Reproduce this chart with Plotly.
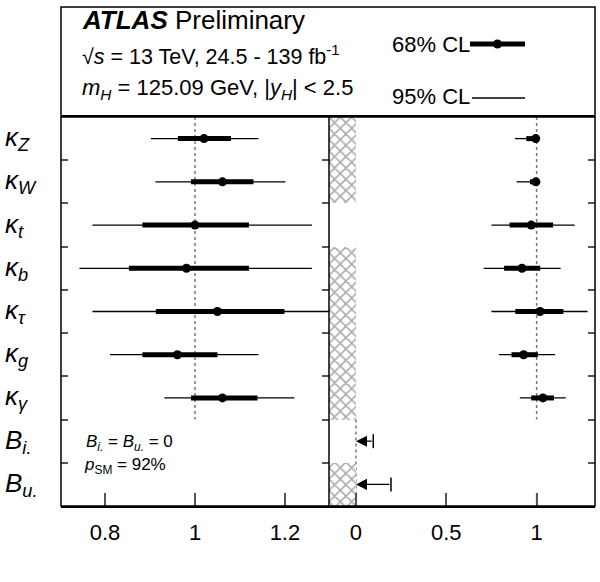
import plotly.graph_objects as go

# ---- data (rows listed top to bottom) ----
row_labels = [
    "<i>κ</i><sub><i>Z</i></sub>", "<i>κ</i><sub><i>W</i></sub>", "<i>κ</i><sub><i>t</i></sub>",
    "<i>κ</i><sub><i>b</i></sub>", "<i>κ</i><sub><i>τ</i></sub>", "<i>κ</i><sub><i>g</i></sub>",
    "<i>κ</i><sub><i>γ</i></sub>", "<i>B</i><sub><i>i.</i></sub>", "<i>B</i><sub><i>u.</i></sub>",
]
kappa_rows = [1, 2, 3, 4, 5, 6, 7]

# left panel: B_i. = B_u. = 0
left_central = [1.020, 1.061, 1.000, 0.981, 1.050, 0.961, 1.061]
left_lo68 = [0.962, 0.991, 0.883, 0.853, 0.913, 0.883, 0.991]
left_hi68 = [1.080, 1.130, 1.120, 1.120, 1.199, 1.050, 1.139]
left_lo95 = [0.902, 0.912, 0.772, 0.743, 0.772, 0.811, 0.932]
left_hi95 = [1.141, 1.201, 1.260, 1.260, 1.300, 1.141, 1.221]

# right panel: B_i., B_u. free
right_central = [0.995, 0.996, 0.970, 0.919, 1.019, 0.928, 1.035]
right_lo68 = [0.943, 0.963, 0.850, 0.820, 0.882, 0.861, 0.970]
right_hi68 = [1.000, 1.000, 1.091, 1.020, 1.148, 1.007, 1.096]
right_lo95 = [0.880, 0.889, 0.750, 0.707, 0.750, 0.791, 0.907]
right_hi95 = [1.000, 1.000, 1.211, 1.133, 1.282, 1.102, 1.161]

b_rows = [8, 9]
b_upper95 = [0.096, 0.194]

# rows where negative values are excluded (hatched)
hatch_rows = [1, 2, 4, 5, 6, 7, 9]

left_range = [0.702, 1.298]
right_range = [-0.149, 1.323]
left_ticks = [0.8, 1, 1.2]
right_ticks = [0, 0.5, 1]

FONT = "Liberation Sans, Arial, Helvetica, sans-serif"

# plot area in pixels: x 61..595, y 7..506; panels start at y=117, split at x=329
def px_x(px):
    return (px - 61) / 534.0

def px_y(py):
    return (506 - py) / 499.0

split = px_x(329)
panel_top = px_y(117)
row_px = 389 / 9.0   # pixel height of one row


def add_panel(fig, central, lo68, hi68, lo95, hi95, xa, ya):
    c = central
    fig.add_trace(go.Scatter(
        x=c, y=kappa_rows, mode="markers", xaxis=xa, yaxis=ya,
        marker=dict(size=1, color="rgba(0,0,0,0)"),
        error_x=dict(type="data", symmetric=False,
                     array=[h - v for h, v in zip(hi95, c)],
                     arrayminus=[v - l for l, v in zip(lo95, c)],
                     thickness=1.3, width=0, color="black"),
        hoverinfo="skip"))
    fig.add_trace(go.Scatter(
        x=c, y=kappa_rows, mode="markers", xaxis=xa, yaxis=ya,
        marker=dict(size=9, color="black"),
        error_x=dict(type="data", symmetric=False,
                     array=[h - v for h, v in zip(hi68, c)],
                     arrayminus=[v - l for l, v in zip(lo68, c)],
                     thickness=5, width=0, color="black")))


def add_bottom_ticks(fig, vals, xa, ya):
    # short upward tick marks at the bottom edge of a panel
    xs, ys = [], []
    for v in vals:
        xs += [v, v, None]
        ys += [9.5, 9.5 - 13 / row_px, None]
    fig.add_trace(go.Scatter(x=xs, y=ys, mode="lines", xaxis=xa, yaxis=ya,
                             line=dict(color="#555", width=1.5), hoverinfo="skip"))


fig = go.Figure()

# hatched excluded region in right panel
fig.add_trace(go.Bar(
    y=hatch_rows, x=[0 - right_range[0]] * len(hatch_rows), base=right_range[0],
    orientation="h", width=1, xaxis="x2", yaxis="y2",
    marker=dict(color="white", line=dict(width=0),
                pattern=dict(shape="x", fgcolor="#555", bgcolor="white", size=8, solidity=0.35)),
    hoverinfo="skip"))

add_panel(fig, left_central, left_lo68, left_hi68, left_lo95, left_hi95, "x", "y")
add_panel(fig, right_central, right_lo68, right_hi68, right_lo95, right_hi95, "x2", "y2")
add_bottom_ticks(fig, left_ticks, "x", "y")
add_bottom_ticks(fig, right_ticks, "x2", "y2")

# upper limits on B_i. and B_u.: end caps + arrows pointing to zero
fig.add_trace(go.Scatter(
    x=b_upper95, y=b_rows, mode="markers", xaxis="x2", yaxis="y2",
    marker=dict(symbol="line-ns", size=10, color="black", line=dict(color="black", width=1.5))))
for row, up in zip(b_rows, b_upper95):
    fig.add_annotation(x=0, y=row, ax=up, ay=row, xref="x2", yref="y2", axref="x2", ayref="y2",
                       showarrow=True, arrowhead=2, arrowsize=1.7, arrowwidth=1.3,
                       arrowcolor="black", text="")

axis_x = dict(showgrid=False, zeroline=False, showline=True, linecolor="black", linewidth=1.5,
              mirror=True, ticks="inside", tickwidth=1.5, tickcolor="#555", automargin=False)
axis_y = dict(showgrid=False, zeroline=False, showline=False,
              ticks="inside", tickwidth=1.5, tickcolor="#555", automargin=False)
row_edges = [1.5, 2.5, 3.5, 4.5, 5.5, 6.5, 7.5, 8.5]

fig.update_layout(
    width=600, height=582,
    margin=dict(l=61, r=5, t=7, b=76),
    plot_bgcolor="white", paper_bgcolor="white",
    showlegend=False, bargap=0,
    font=dict(family=FONT, size=22, color="black"),
    xaxis=dict(domain=[0, split], range=left_range, tickvals=left_ticks,
               ticktext=["0.8", "1", "1.2"], ticklen=13,
               ticklabelstandoff=6, anchor="y", **axis_x),
    xaxis2=dict(domain=[split, 1], range=right_range, tickvals=right_ticks,
                ticktext=["0", "0.5", "1"], ticklen=13,
                ticklabelstandoff=6, anchor="y2", **axis_x),
    yaxis=dict(domain=[0, panel_top], range=[9.5, 0.5], tickvals=row_edges,
               showticklabels=False, ticklen=7, mirror="ticks", anchor="x", **axis_y),
    yaxis2=dict(domain=[0, panel_top], range=[9.5, 0.5], tickvals=row_edges,
                showticklabels=False, ticklen=7, side="right", anchor="x2", **axis_y),
)

# SM reference lines
dash = dict(color="#777", width=1.5, dash="3px,3px")
fig.add_shape(type="line", xref="x", yref="y", x0=1, x1=1, y0=0.5, y1=7.5, line=dash, layer="below")
fig.add_shape(type="line", xref="x2", yref="y2", x0=1, x1=1, y0=0.5, y1=7.5, line=dash, layer="below")
fig.add_shape(type="line", xref="x2", yref="y2", x0=0, x1=0, y0=7.5, y1=9.5, line=dash, layer="below")

# frame: panels, divider and header box
frame = dict(color="black", width=1.5)
fig.add_shape(type="rect", xref="paper", yref="paper", x0=0, x1=1, y0=0, y1=1, line=frame)
fig.add_shape(type="line", xref="paper", yref="paper", x0=0, x1=1, y0=panel_top, y1=panel_top, line=frame)
fig.add_shape(type="line", xref="paper", yref="paper", x0=split, x1=split, y0=0, y1=panel_top, line=frame)

# legend keys
fig.add_shape(type="line", xref="paper", yref="paper", x0=px_x(470), x1=px_x(525),
              y0=px_y(44), y1=px_y(44), line=dict(color="black", width=5))
fig.add_shape(type="circle", xref="paper", yref="paper", x0=px_x(493), x1=px_x(502),
              y0=px_y(48.5), y1=px_y(39.5), fillcolor="black", line=dict(color="black", width=0))
fig.add_shape(type="line", xref="paper", yref="paper", x0=px_x(472), x1=px_x(525),
              y0=px_y(98), y1=px_y(98), line=dict(color="black", width=1.3))

texts = [
    ("<b><i>ATLAS</i></b> Preliminary", 80, 20, 26),
    ("√<i>s</i> = 13 TeV, 24.5 - 139 fb<sup>-1</sup>", 80, 55, 21.5),
    ("<i>m</i><sub><i>H</i></sub> = 125.09 GeV, |<i>y</i><sub><i>H</i></sub>| < 2.5", 80, 89, 22),
    ("68% CL", 390, 45, 22),
    ("95% CL", 390, 97, 22),
    ("<i>B</i><sub><i>i.</i></sub> = <i>B</i><sub><i>u.</i></sub> = 0", 84, 443, 17),
    ("<i>p</i><sub>SM</sub> = 92%", 82, 466, 17),
]
for txt, x, y, size in texts:
    fig.add_annotation(text=txt, xref="paper", yref="paper", x=px_x(x), y=px_y(y),
                       xanchor="left", yanchor="middle", showarrow=False,
                       font=dict(family=FONT, size=size, color="black"))

for row, lbl in enumerate(row_labels, start=1):
    fig.add_annotation(text=lbl, xref="paper", yref="y", x=px_x(3), y=row,
                       xanchor="left", yanchor="middle", showarrow=False,
                       font=dict(family=FONT, size=26, color="black"))

# page body has a default 8px margin; remove it so the figure sits at the window corner
fig.write_html("out.html", config={"displayModeBar": False},
               post_script="document.body.style.margin='0px';")
